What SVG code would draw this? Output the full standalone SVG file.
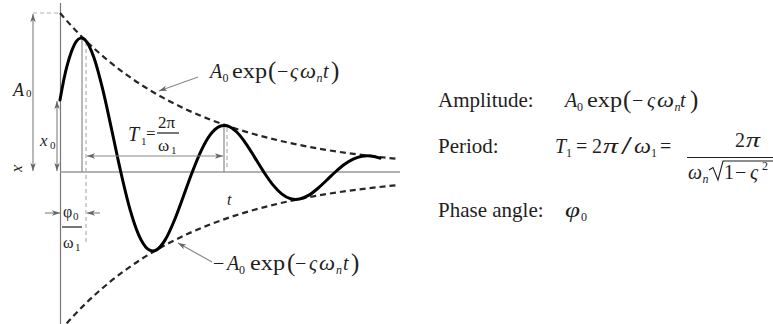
<svg xmlns="http://www.w3.org/2000/svg" width="773" height="324" viewBox="0 0 773 324">
<defs>
<style>
.t{font-family:"Liberation Serif","Times New Roman",serif;fill:#1e1e1e}
.i{font-style:italic}
.s20{font-size:20px}.s22{font-size:22px}.s25{font-size:25px}.s12{font-size:12px}.s11{font-size:11px}.s17{font-size:17px}.s16{font-size:16px}.s18{font-size:18px}.s21{font-size:21px}
.gl{stroke:#8a8a8a;stroke-width:1.2;fill:none}
.gd{stroke:#b0b0b0;stroke-width:1.2;stroke-dasharray:4 3;fill:none}
.env{stroke:#262626;stroke-width:2.2;stroke-dasharray:6 4;fill:none}
.wave{stroke:#000;stroke-width:3;fill:none;stroke-linejoin:round;stroke-linecap:round}
.bar{stroke:#1e1e1e;stroke-width:1.2}
</style>
<marker id="ah" markerUnits="userSpaceOnUse" markerWidth="9" markerHeight="7" refX="8" refY="3.5" orient="auto-start-reverse">
<path d="M0,0.8 L8,3.5 L0,6.2 L2,3.5 z" fill="#666"/>
</marker>
</defs>
<rect width="773" height="324" fill="#fff"/>

<g id="axes">
<line x1="60.5" y1="3" x2="60.5" y2="324" stroke="#777" stroke-width="1.2"/>
<line x1="60" y1="172" x2="400" y2="172" stroke="#999" stroke-width="1.4"/>
</g>

<g id="guides">
<line class="gd" x1="33" y1="13" x2="60" y2="13"/>
<line class="gl" x1="82" y1="38" x2="82" y2="172"/>
<line class="gd" x1="86" y1="42" x2="86" y2="243"/>
<line class="gl" x1="224" y1="125" x2="224" y2="172"/>
<line class="gd" x1="227" y1="128" x2="227" y2="170"/>
</g>

<g id="envelopes">
<path class="env" d="M60,13 C76.67,32.58 93.33,48.59 110,62.12 C130,78.36 150,91.05 170,101.47 C196.67,115.36 223.33,125.25 250,132.95 C300,147.38 350,154.34 398,158.9"/>
<path class="env" d="M60,331 C76.67,311.42 93.33,295.41 110,281.88 C130,265.64 150,252.95 170,242.53 C196.67,228.64 223.33,218.75 250,211.05 C300,196.62 350,189.66 398,185.1"/>
</g>

<g id="wave">
<path class="wave" d="M60,100 C62.39,86.4 64.48,75.10 67.16,65.36 S73.12,45.82 76.10,41.57 S82.06,37.16 85.04,39.85 S90.99,49.33 93.97,57.71 S99.93,77.99 102.91,90.12 S108.87,116.87 111.85,130.52 S117.81,159.03 120.79,172 S126.74,197.87 129.72,208.35 S135.68,228.11 138.66,234.87 S144.62,246.38 147.60,248.89 S153.56,251.50 156.54,249.91 S162.49,244.32 165.47,239.38 S171.43,227.42 174.41,220.27 S180.37,204.51 183.35,196.46 S189.31,179.65 192.29,172 S198.24,156.75 201.22,150.57 S207.18,138.92 210.16,134.94 S216.12,128.15 219.10,126.67 S225.06,125.14 228.04,126.07 S233.99,129.37 236.97,132.28 S242.93,139.33 245.91,143.55 S251.87,152.84 254.85,157.58 S260.81,167.49 263.79,172 S269.74,180.99 272.72,184.63 S278.68,191.50 281.66,193.85 S287.62,197.85 290.60,198.72 S296.56,199.62 299.54,199.07 S305.49,197.13 308.47,195.41 S314.43,191.26 317.41,188.77 S323.37,183.30 326.35,180.50 S332.31,174.66 335.29,172 S341.24,166.70 344.22,164.55 S350.18,160.50 353.16,159.12 S359.12,156.76 362.10,156.25 S368.06,155.72 371.04,156.04 S376.99,157.19 379.97,158.20"/>
</g>

<g id="connectors">
<line class="gl" x1="33" y1="14" x2="33" y2="171" marker-start="url(#ah)" marker-end="url(#ah)"/>
<line class="gl" x1="57" y1="101" x2="57" y2="171" marker-start="url(#ah)" marker-end="url(#ah)"/>
<line class="gl" x1="87" y1="156" x2="223" y2="156" marker-start="url(#ah)" marker-end="url(#ah)"/>
<line class="gl" x1="45" y1="213" x2="60" y2="213" marker-end="url(#ah)"/>
<line class="gl" x1="100" y1="213" x2="87" y2="213" marker-end="url(#ah)"/>
<line class="gl" x1="198" y1="77" x2="159" y2="91" marker-end="url(#ah)"/>
<line class="gl" x1="212" y1="262" x2="178" y2="243" marker-end="url(#ah)"/>
</g>

<g id="label-A0">
<text class="t i s18" x="13" y="96">A</text>
<text class="t s11" x="26" y="97">0</text>
</g>
<g id="label-x0">
<text class="t i s17" x="40" y="146">x</text>
<text class="t s11" x="50" y="149">0</text>
</g>
<g id="label-x">
<text class="t i s16" transform="translate(14,165) rotate(90)">x</text>
</g>
<g id="label-T1">
<text class="t i s20" x="128" y="141">T</text>
<text class="t s11" x="141" y="145">1</text>
<text class="t s17" x="146" y="139">=</text>
<text class="t s17" x="158" y="128">2π</text>
<line class="bar" x1="157" y1="133" x2="179" y2="133"/>
<text class="t s17" x="158" y="151">ω</text>
<text class="t s11" x="171" y="154">1</text>
</g>
<g id="label-phase">
<text class="t s16" x="63" y="217">φ</text>
<text class="t s11" x="73" y="220">0</text>
<line class="bar" x1="62" y1="227" x2="82" y2="227"/>
<text class="t s16" x="63" y="248">ω</text>
<text class="t s11" x="75" y="251">1</text>
</g>
<g id="label-t">
<text class="t i s16" x="227" y="205">t</text>
</g>

<g id="label-upper" transform="translate(210,78)">
<text class="t i s20" x="0" y="0">A</text>
<text class="t s12" x="12.5" y="4">0</text>
<text class="t s22" x="22" y="0" textLength="35" lengthAdjust="spacingAndGlyphs">exp</text>
<text class="t s25" x="58" y="1">(</text>
<text class="t s20" x="67" y="0">−</text>
<text class="t i s20" x="80" y="0">ς</text>
<text class="t i s20" x="90" y="0" textLength="16" lengthAdjust="spacingAndGlyphs">ω</text>
<text class="t i s12" x="106.5" y="4">n</text>
<text class="t i s20" x="113" y="0">t</text>
<text class="t s25" x="121" y="1">)</text>
</g>

<g id="label-lower" transform="translate(227,270)">
<text class="t s20" x="-14" y="0">−</text>
<text class="t i s20" x="0" y="0">A</text>
<text class="t s12" x="12" y="4">0</text>
<text class="t s22" x="23" y="0" textLength="35" lengthAdjust="spacingAndGlyphs">exp</text>
<text class="t s25" x="60" y="1">(</text>
<text class="t s20" x="68" y="0">−</text>
<text class="t i s20" x="82" y="0">ς</text>
<text class="t i s20" x="92" y="0" textLength="16" lengthAdjust="spacingAndGlyphs">ω</text>
<text class="t i s12" x="109" y="4">n</text>
<text class="t i s20" x="116" y="0">t</text>
<text class="t s25" x="124" y="1">)</text>
</g>

<g id="amplitude">
<text class="t s21" x="438" y="107">Amplitude:</text>
<g transform="translate(565,107)">
<text class="t i s20" x="0" y="0">A</text>
<text class="t s12" x="12" y="4">0</text>
<text class="t s22" x="22" y="0" textLength="35" lengthAdjust="spacingAndGlyphs">exp</text>
<text class="t s25" x="58" y="1">(</text>
<text class="t s20" x="67" y="0">−</text>
<text class="t i s20" x="82" y="0">ς</text>
<text class="t i s20" x="92" y="0" textLength="17" lengthAdjust="spacingAndGlyphs">ω</text>
<text class="t i s12" x="109.5" y="4">n</text>
<text class="t i s20" x="115" y="0">t</text>
<text class="t s25" x="125" y="1">)</text>
</g>
</g>

<g id="period">
<text class="t s21" x="438" y="153">Period:</text>
<text class="t i s20" x="555" y="153">T</text>
<text class="t s12" x="566" y="157">1</text>
<text class="t s20" x="576" y="153">=</text>
<text class="t s20" x="592" y="153">2</text>
<text class="t i s20" x="603" y="153" textLength="15" lengthAdjust="spacingAndGlyphs">π</text>
<text class="t s25" x="621" y="154" textLength="11" lengthAdjust="spacingAndGlyphs">/</text>
<text class="t i s20" x="634" y="153" textLength="17" lengthAdjust="spacingAndGlyphs">ω</text>
<text class="t s12" x="651" y="157">1</text>
<text class="t s20" x="660" y="153">=</text>
<text class="t s20" x="735" y="147">2</text>
<text class="t i s20" x="746" y="147" textLength="14" lengthAdjust="spacingAndGlyphs">π</text>
<line class="bar" x1="687" y1="157.5" x2="773" y2="157.5" stroke-width="1.4"/>
<text class="t i s20" x="688" y="179" textLength="14" lengthAdjust="spacingAndGlyphs">ω</text>
<text class="t i s12" x="702.5" y="183">n</text>
<path d="M709,170 L713,167.5 L718,180 L723,161 L773,161" fill="none" stroke="#1e1e1e" stroke-width="1.1"/>
<text class="t s20" x="724" y="179">1</text>
<text class="t s20" x="735" y="179">−</text>
<text class="t i s20" x="750" y="179">ς</text>
<text class="t s12" x="762" y="170">2</text>
</g>

<g id="phase">
<text class="t s21" x="438" y="217">Phase angle:</text>
<text class="t i s20" x="565" y="217" textLength="15" lengthAdjust="spacingAndGlyphs">φ</text>
<text class="t s12" x="581" y="221">0</text>
</g>
</svg>
